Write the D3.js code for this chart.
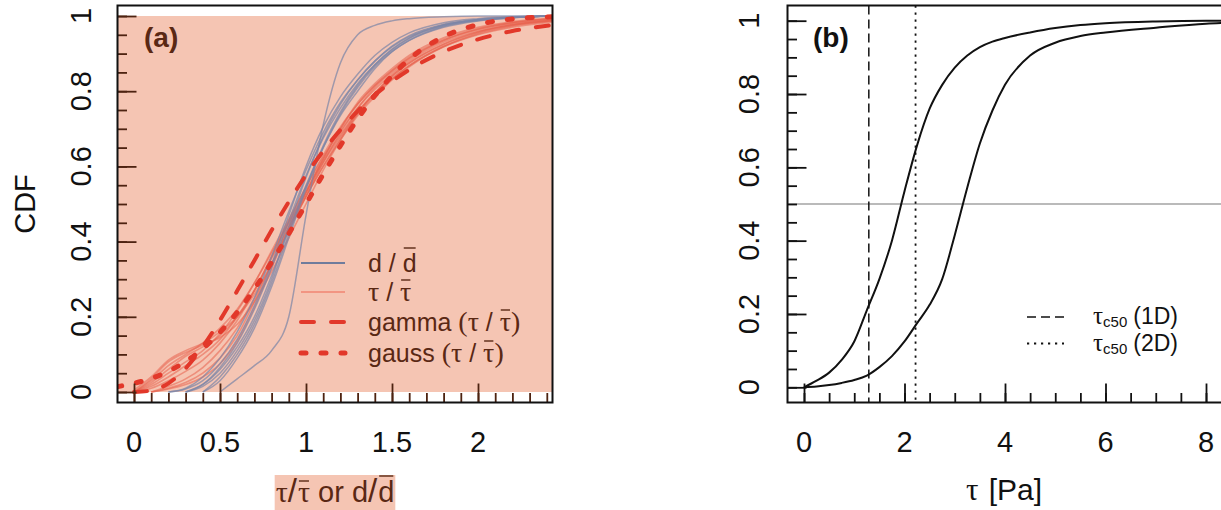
<!DOCTYPE html>
<html>
<head>
<meta charset="utf-8">
<script src="https://cdn.jsdelivr.net/npm/d3@7"></script>
<style>
  html, body { margin: 0; padding: 0; background: #ffffff; }
  svg { display: block; }
</style>
</head>
<body>
<svg id="fig" width="1221" height="510"></svg>
<script>
// ---------------- data ----------------
// panel (a): normalised value grid (tau / mean tau, d / mean d)
const ratioGrid = [-0.1, 0, 0.1, 0.2, 0.3, 0.4, 0.5, 0.6, 0.7, 0.8, 0.9, 1.0, 1.1, 1.2, 1.3, 1.4, 1.5, 1.6, 1.8, 2.0, 2.2, 2.45];

// empirical CDFs of d / mean(d), one row per sample
const dCurves = [
  [null, null, null, null, 0, 0.02, 0.06, 0.12, 0.2, 0.31, 0.43, 0.55, 0.65, 0.735, 0.8, 0.86, 0.905, 0.935, 0.972, 0.988, 0.996, 1],
  [null, null, null, 0, 0.01, 0.04, 0.09, 0.16, 0.25, 0.36, 0.48, 0.59, 0.69, 0.77, 0.83, 0.88, 0.92, 0.948, 0.978, 0.991, 0.997, 1],
  [null, null, null, null, null, 0, 0.04, 0.1, 0.18, 0.29, 0.42, 0.545, 0.655, 0.745, 0.815, 0.87, 0.912, 0.942, 0.976, 0.99, 0.996, 1],
  [null, null, null, null, 0, 0.015, 0.05, 0.11, 0.19, 0.3, 0.44, 0.57, 0.68, 0.765, 0.83, 0.88, 0.918, 0.945, 0.976, 0.99, 0.996, 1],
  [null, null, null, null, null, 0, 0.03, 0.09, 0.17, 0.28, 0.41, 0.54, 0.65, 0.74, 0.81, 0.865, 0.905, 0.935, 0.97, 0.987, 0.995, 1],
  [null, null, null, 0, 0.008, 0.03, 0.075, 0.14, 0.23, 0.34, 0.47, 0.6, 0.705, 0.785, 0.845, 0.895, 0.93, 0.955, 0.982, 0.993, 0.998, 1],
  [null, null, null, null, 0, 0.02, 0.065, 0.13, 0.22, 0.33, 0.455, 0.575, 0.675, 0.755, 0.82, 0.87, 0.91, 0.94, 0.974, 0.989, 0.996, 1],
  [null, null, null, null, null, null, 0, 0.035, 0.07, 0.11, 0.2, 0.47, 0.71, 0.875, 0.95, 0.975, 0.987, 0.993, 0.998, 1, 1, 1]
];

// empirical CDFs of tau / mean(tau), one row per sample
const tauCurves = [
  [null, 0, 0.03, 0.07, 0.1, 0.13, 0.17, 0.22, 0.29, 0.37, 0.45, 0.53, 0.61, 0.68, 0.745, 0.795, 0.84, 0.875, 0.925, 0.958, 0.977, 0.99],
  [null, 0, 0.015, 0.04, 0.07, 0.1, 0.14, 0.2, 0.27, 0.355, 0.44, 0.52, 0.6, 0.67, 0.735, 0.785, 0.83, 0.865, 0.918, 0.952, 0.973, 0.988],
  [null, null, 0, 0.015, 0.035, 0.065, 0.11, 0.17, 0.25, 0.34, 0.43, 0.52, 0.61, 0.69, 0.755, 0.81, 0.85, 0.885, 0.935, 0.965, 0.982, 0.993],
  [null, 0, 0.035, 0.08, 0.105, 0.125, 0.145, 0.18, 0.24, 0.32, 0.41, 0.5, 0.59, 0.67, 0.74, 0.795, 0.84, 0.875, 0.925, 0.957, 0.976, 0.989],
  [null, null, 0, 0.01, 0.025, 0.05, 0.09, 0.15, 0.24, 0.34, 0.44, 0.53, 0.62, 0.7, 0.765, 0.815, 0.855, 0.89, 0.938, 0.967, 0.983, 0.994],
  [null, 0, 0.025, 0.06, 0.095, 0.12, 0.15, 0.2, 0.27, 0.36, 0.455, 0.545, 0.63, 0.705, 0.765, 0.815, 0.855, 0.888, 0.935, 0.964, 0.981, 0.992],
  [null, 0, 0.01, 0.03, 0.055, 0.085, 0.13, 0.19, 0.27, 0.36, 0.45, 0.535, 0.615, 0.685, 0.745, 0.795, 0.835, 0.868, 0.918, 0.95, 0.97, 0.985],
  [null, 0, 0.02, 0.05, 0.08, 0.11, 0.155, 0.215, 0.29, 0.375, 0.46, 0.545, 0.625, 0.695, 0.755, 0.805, 0.845, 0.88, 0.93, 0.96, 0.978, 0.99],
  [null, null, 0, 0.008, 0.02, 0.04, 0.075, 0.135, 0.225, 0.33, 0.435, 0.53, 0.62, 0.7, 0.77, 0.82, 0.86, 0.895, 0.942, 0.97, 0.985, 0.995],
  [null, 0.005, 0.04, 0.085, 0.11, 0.13, 0.16, 0.2, 0.26, 0.34, 0.43, 0.52, 0.6, 0.675, 0.74, 0.79, 0.832, 0.868, 0.92, 0.955, 0.975, 0.988]
];

// fitted distributions of tau / mean(tau)
const gammaFit = [null, 0, 0.004, 0.023, 0.063, 0.121, 0.191, 0.269, 0.35, 0.43, 0.506, 0.577, 0.641, 0.697, 0.747, 0.79, 0.826, 0.857, 0.905, 0.938, 0.96, 0.977];
const gaussFit = [0.014, 0.023, 0.036, 0.055, 0.081, 0.115, 0.159, 0.212, 0.274, 0.345, 0.421, 0.5, 0.579, 0.655, 0.726, 0.788, 0.841, 0.885, 0.945, 0.977, 0.992, 0.998];

const aXTicks = [0, 0.5, 1, 1.5, 2];
const aXLabels = ["0", "0.5", "1", "1.5", "2"];
const cdfTicks = [0, 0.2, 0.4, 0.6, 0.8, 1];
const cdfLabels = ["0", "0.2", "0.4", "0.6", "0.8", "1"];

// panel (b): shear stress grid [Pa] and CDFs
const tauGrid = [0, 0.25, 0.5, 0.75, 1, 1.25, 1.5, 1.75, 2, 2.25, 2.5, 2.75, 3, 3.25, 3.5, 3.75, 4, 4.5, 5, 5.5, 6, 7, 8, 8.5];
const cdf1D = [0, 0.018, 0.04, 0.075, 0.125, 0.21, 0.295, 0.4, 0.535, 0.66, 0.76, 0.825, 0.872, 0.905, 0.928, 0.943, 0.953, 0.968, 0.98, 0.988, 0.993, 0.998, 1, 1];
const cdf2D = [0, 0.002, 0.006, 0.012, 0.02, 0.032, 0.055, 0.085, 0.125, 0.175, 0.225, 0.295, 0.415, 0.545, 0.665, 0.755, 0.825, 0.905, 0.94, 0.958, 0.968, 0.981, 0.992, 0.995];
const tauC50 = [1.29, 2.22];          // 1D, 2D
const medianLevel = 0.5;
const bXTicks = [0, 2, 4, 6, 8];
const bXLabels = ["0", "2", "4", "6", "8"];

// ---------------- styling ----------------
const SANS = "'Liberation Sans', Arial, Helvetica, sans-serif";
const SERIF = "'Liberation Serif', 'Times New Roman', 'DejaVu Serif', serif";
const PINK = "#f5c5b3";
const BROWN = "#5a2814";
const TICK_BROWN = "#4d2311";
const D_COL = "#7a85a6";
const TAU_COL = "#e8604c";
const FIT_COL = "#e2382a";

const svg = d3.select("#fig");

// ---------------- helpers ----------------
function richText(parent, x, y, parts, anchor, color) {
  const g = parent.append("g");
  let cx = 0;
  parts.forEach(p => {
    const size = p.size;
    const t = g.append("text")
      .attr("x", cx).attr("y", p.dy || 0)
      .style("font-family", p.serif ? SERIF : SANS)
      .style("font-size", size + "px")
      .attr("fill", color)
      .text(p.t);
    const w = t.node().getComputedTextLength();
    if (p.bar) {
      g.append("line")
        .attr("x1", cx + (p.barInset || 1)).attr("x2", cx + w - (p.barInset || 1))
        .attr("y1", -p.bar).attr("y2", -p.bar)
        .attr("stroke", color).attr("stroke-width", p.barW || 1.4);
    }
    cx += w + (p.gap || 0);
  });
  const shift = anchor === "middle" ? -cx / 2 : (anchor === "end" ? -cx : 0);
  g.attr("transform", `translate(${x + shift},${y})`);
  return g;
}

function clipRect(id, b) {
  svg.append("clipPath").attr("id", id).append("rect")
    .attr("x", b.left).attr("y", b.top).attr("width", b.right - b.left).attr("height", b.bottom - b.top);
}

function ticks(g, axis, values, size, color, width) {
  const a = g.append("g").call(axis.tickValues(values).tickSize(size).tickFormat(""));
  a.select(".domain").remove();
  a.selectAll(".tick line").attr("stroke", color).attr("stroke-width", width);
  a.selectAll(".tick text").remove();
  return a;
}

// ================= panel (a) =================
const boxA = { left: 117.5, right: 552.5, top: 5.5, bottom: 402.5 };
const xA = d3.scaleLinear().domain([0, 2]).range([134, 478]);
const yA = d3.scaleLinear().domain([0, 1]).range([392, 16]);
clipRect("clipA", boxA);

const gA = svg.append("g");
// shaded CDF band
gA.append("rect")
  .attr("x", boxA.left).attr("width", boxA.right - boxA.left)
  .attr("y", yA(1)).attr("height", yA(0) - yA(1))
  .attr("fill", PINK);

const lineA = d3.line()
  .defined(d => d[1] != null)
  .x(d => xA(d[0])).y(d => yA(d[1]))
  .curve(d3.curveMonotoneX);
const toPts = arr => ratioGrid.map((r, i) => [r, arr[i]]);

const curvesA = gA.append("g").attr("clip-path", "url(#clipA)");
tauCurves.forEach(c => {
  curvesA.append("path").attr("d", lineA(toPts(c)))
    .attr("fill", "none").attr("stroke", TAU_COL).attr("stroke-opacity", 0.55).attr("stroke-width", 1.6);
});
dCurves.forEach(c => {
  curvesA.append("path").attr("d", lineA(toPts(c)))
    .attr("fill", "none").attr("stroke", D_COL).attr("stroke-opacity", 0.7).attr("stroke-width", 1.5);
});
curvesA.append("path").attr("d", lineA(toPts(gammaFit)))
  .attr("fill", "none").attr("stroke", FIT_COL).attr("stroke-width", 4)
  .attr("stroke-dasharray", "13,17").attr("stroke-linecap", "round");
curvesA.append("path").attr("d", lineA(toPts(gaussFit)))
  .attr("fill", "none").attr("stroke", FIT_COL).attr("stroke-width", 5)
  .attr("stroke-dasharray", "5,15").attr("stroke-linecap", "round");

// ticks (inward)
const minorAX = d3.range(0, 25).map(i => i / 10);
const minorAY = d3.range(0, 21).map(i => i / 20);
const axXA = gA.append("g").attr("transform", `translate(0,${boxA.bottom})`);
ticks(axXA, d3.axisBottom(xA), minorAX, -9.5, TICK_BROWN, 1.8);
ticks(axXA, d3.axisBottom(xA), aXTicks, -19, TICK_BROWN, 1.8);
const axYA = gA.append("g").attr("transform", `translate(${boxA.left},0)`);
ticks(axYA, d3.axisLeft(yA), minorAY, -9.5, TICK_BROWN, 1.8);
ticks(axYA, d3.axisLeft(yA), cdfTicks, -19, TICK_BROWN, 1.8);

// frame
gA.append("rect")
  .attr("x", boxA.left).attr("y", boxA.top)
  .attr("width", boxA.right - boxA.left).attr("height", boxA.bottom - boxA.top)
  .attr("fill", "none").attr("stroke", "#111").attr("stroke-width", 2);

// tick labels
gA.selectAll("text.xl").data(aXTicks).join("text")
  .attr("x", d => xA(d)).attr("y", 452)
  .attr("text-anchor", "middle")
  .style("font-family", SANS).style("font-size", "29px").attr("fill", "#111")
  .text((d, i) => aXLabels[i]);
gA.selectAll("text.yl").data(cdfTicks).join("text")
  .attr("transform", d => `translate(91,${yA(d)}) rotate(-90)`)
  .attr("text-anchor", "middle")
  .style("font-family", SANS).style("font-size", "29px").attr("fill", "#111")
  .text((d, i) => cdfLabels[i]);

// axis titles
svg.append("text")
  .attr("transform", `translate(35,${(yA(0) + yA(1)) / 2}) rotate(-90)`)
  .attr("text-anchor", "middle")
  .style("font-family", SANS).style("font-size", "29px").attr("fill", "#111")
  .text("CDF");

const xTitleBg = svg.append("rect").attr("fill", PINK);
const xTitle = richText(svg, (boxA.left + boxA.right) / 2, 502, [
  { t: "τ", serif: true, size: 30 },
  { t: "/", size: 33, gap: 1 },
  { t: "τ", serif: true, size: 30, bar: 21 },
  { t: "\u00A0or\u00A0d", size: 29 },
  { t: "/", size: 33, gap: 1 },
  { t: "d", size: 29, bar: 26 }
], "middle", BROWN);
{
  const bb = xTitle.node().getBBox();
  const tr = xTitle.attr("transform").match(/translate\(([-\d.]+),([-\d.]+)\)/);
  const ox = +tr[1];
  xTitleBg.attr("x", ox + bb.x - 1).attr("width", bb.width + 2)
    .attr("y", 475).attr("height", 40);
}

// panel tag
svg.append("text").attr("x", 144).attr("y", 47)
  .style("font-family", SANS).style("font-size", "28px").style("font-weight", "bold")
  .attr("fill", BROWN).text("(a)");

// legend
const legA = svg.append("g");
const legRowsA = [
  { y: 263, stroke: "#6f7c9c", w: 2, dash: null, cap: "butt",
    parts: [{ t: "d\u00A0/\u00A0", size: 25 }, { t: "d", size: 25, bar: 24 }] },
  { y: 292, stroke: "#f08472", w: 1.6, dash: null, cap: "butt",
    parts: [{ t: "τ", serif: true, size: 28 }, { t: "\u00A0/\u00A0", size: 25 }, { t: "τ", serif: true, size: 28, bar: 21 }] },
  { y: 322, stroke: FIT_COL, w: 4, dash: "13,17", cap: "round",
    parts: [{ t: "gamma\u00A0", size: 25 }, { t: "(", serif: true, size: 28 }, { t: "τ", serif: true, size: 28 },
            { t: "\u00A0/\u00A0", size: 25 }, { t: "τ", serif: true, size: 28, bar: 21 }, { t: ")", serif: true, size: 28 }] },
  { y: 353, stroke: FIT_COL, w: 5, dash: "5,15", cap: "round",
    parts: [{ t: "gauss\u00A0", size: 25 }, { t: "(", serif: true, size: 28 }, { t: "τ", serif: true, size: 28 },
            { t: "\u00A0/\u00A0", size: 25 }, { t: "τ", serif: true, size: 28, bar: 21 }, { t: ")", serif: true, size: 28 }] }
];
legRowsA.forEach(r => {
  legA.append("line")
    .attr("x1", 301).attr("x2", 345).attr("y1", r.y).attr("y2", r.y)
    .attr("stroke", r.stroke).attr("stroke-width", r.w)
    .attr("stroke-dasharray", r.dash).attr("stroke-linecap", r.cap);
  richText(legA, 368, r.y + 9, r.parts, "start", BROWN);
});

// ================= panel (b) =================
const boxB = { left: 787.5, right: 1240, top: 5.5, bottom: 402.5 };
const xB = d3.scaleLinear().domain([0, 8]).range([804, 1206]);
const yB = d3.scaleLinear().domain([0, 1]).range([387.3, 20.7]);
clipRect("clipB", boxB);
const gB = svg.append("g");
const plotB = gB.append("g").attr("clip-path", "url(#clipB)");

plotB.append("line")
  .attr("x1", boxB.left).attr("x2", boxB.right)
  .attr("y1", yB(medianLevel)).attr("y2", yB(medianLevel))
  .attr("stroke", "#a3a3a3").attr("stroke-width", 1.5);

plotB.append("line")
  .attr("x1", xB(tauC50[0])).attr("x2", xB(tauC50[0]))
  .attr("y1", boxB.top).attr("y2", boxB.bottom)
  .attr("stroke", "#111").attr("stroke-width", 1.5).attr("stroke-dasharray", "9,5");
plotB.append("line")
  .attr("x1", xB(tauC50[1])).attr("x2", xB(tauC50[1]))
  .attr("y1", boxB.top).attr("y2", boxB.bottom)
  .attr("stroke", "#111").attr("stroke-width", 1.8).attr("stroke-dasharray", "2.2,4.8");

const lineB = d3.line().x(d => xB(d[0])).y(d => yB(d[1])).curve(d3.curveMonotoneX);
[cdf1D, cdf2D].forEach(c => {
  plotB.append("path").attr("d", lineB(tauGrid.map((t, i) => [t, c[i]])))
    .attr("fill", "none").attr("stroke", "#111").attr("stroke-width", 2);
});

const minorBX = d3.range(0, 17).map(i => i / 2);
const axXB = gB.append("g").attr("transform", `translate(0,${boxB.bottom})`);
ticks(axXB, d3.axisBottom(xB), minorBX, -9.5, "#111", 1.8);
ticks(axXB, d3.axisBottom(xB), bXTicks, -19, "#111", 1.8);
const axYB = gB.append("g").attr("transform", `translate(${boxB.left},0)`);
ticks(axYB, d3.axisLeft(yB), minorAY, -9.5, "#111", 1.8);
ticks(axYB, d3.axisLeft(yB), cdfTicks, -19, "#111", 1.8);

gB.append("rect")
  .attr("x", boxB.left).attr("y", boxB.top)
  .attr("width", boxB.right - boxB.left).attr("height", boxB.bottom - boxB.top)
  .attr("fill", "none").attr("stroke", "#111").attr("stroke-width", 2);

gB.selectAll("text.xl").data(bXTicks).join("text")
  .attr("x", d => xB(d)).attr("y", 452)
  .attr("text-anchor", "middle")
  .style("font-family", SANS).style("font-size", "29px").attr("fill", "#111")
  .text((d, i) => bXLabels[i]);
gB.selectAll("text.yl").data(cdfTicks).join("text")
  .attr("transform", d => `translate(759,${yB(d)}) rotate(-90)`)
  .attr("text-anchor", "middle")
  .style("font-family", SANS).style("font-size", "29px").attr("fill", "#111")
  .text((d, i) => cdfLabels[i]);

richText(svg, 1004, 500, [
  { t: "τ", serif: true, size: 31, gap: 2 },
  { t: "\u00A0[Pa]", size: 30 }
], "middle", "#111");

svg.append("text").attr("x", 813).attr("y", 47)
  .style("font-family", SANS).style("font-size", "28px").style("font-weight", "bold")
  .attr("fill", "#111").text("(b)");

// legend (b)
const legRowsB = [
  { y: 317, dash: "9,5", w: 1.5, label: "(1D)" },
  { y: 343.5, dash: "2.2,4.8", w: 1.8, label: "(2D)" }
];
legRowsB.forEach(r => {
  svg.append("line")
    .attr("x1", 1027).attr("x2", 1064).attr("y1", r.y).attr("y2", r.y)
    .attr("stroke", "#111").attr("stroke-width", r.w).attr("stroke-dasharray", r.dash);
  richText(svg, 1093, r.y + 7, [
    { t: "τ", serif: true, size: 25 },
    { t: "c50", size: 15, dy: 3, gap: 6 },
    { t: r.label, size: 23 }
  ], "start", "#111");
});
</script>
</body>
</html>
